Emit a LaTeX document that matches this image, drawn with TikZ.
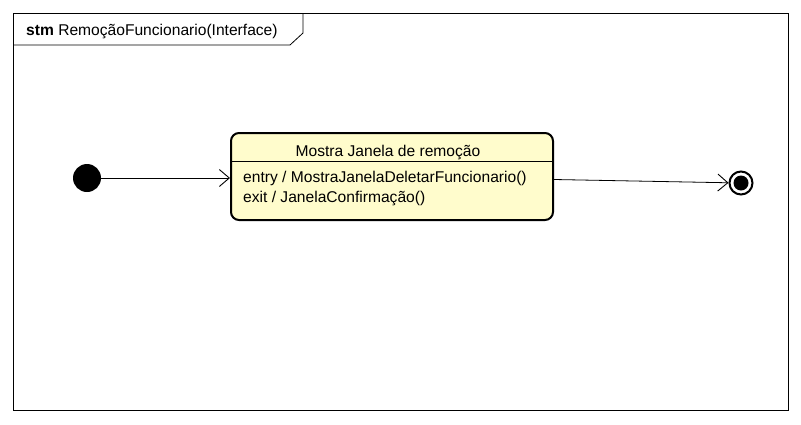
\documentclass[tikz,border=0pt]{standalone}
\usepackage{fontspec}
\setmainfont{Liberation Sans}
\usetikzlibrary{arrows.meta, positioning}

\tikzset{
    statebox/.style={draw, line width=2pt, rounded corners=8pt, fill=yellow!20,
        minimum width=322pt, minimum height=87pt, inner sep=0pt},
    trans/.style={-{Straight Barb[length=10pt,width=17pt,line width=0.9pt]}, line width=0.8pt},
    txt/.style={font=\fontsize{15.6}{18}\selectfont, inner sep=0pt}
}

\begin{document}
\begin{tikzpicture}[x=1pt,y=-1pt]
    \useasboundingbox (0,0) rectangle (801,424);

    % frame and its name tab
    \draw[line width=0.8pt] (13,13) rectangle (788,410);
    \draw[line width=0.8pt] (13,45) -- (290,45) -- (303,33) -- (303,13);
    \node[txt, anchor=west] (frametitle) at (26,31) {\textbf{stm} RemoçãoFuncionario(Interface)};

    % states
    \node[circle, fill=black, minimum size=28pt, inner sep=0pt] (start) at (87,178) {};
    \node[statebox] (mostra) at (392,176.5) {};
    \node[circle, draw, line width=2pt, minimum size=23pt, inner sep=0pt] (stop) at (741,183) {};
    \node[circle, fill=black, minimum size=15pt, inner sep=0pt] (stopdot) at (stop) {};

    % state compartments
    \node[txt] (mostratitle) at (388,152) {Mostra Janela de remoção};
    \draw[line width=0.8pt] ([yshift=-29]mostra.north west) -- ([yshift=-29]mostra.north east);
    \node[txt, anchor=west] (entry) at (243,178) {entry / MostraJanelaDeletarFuncionario()};
    \node[txt, anchor=west] (exit) at (243,198) {exit / JanelaConfirmação()};

    % transitions
    \draw[trans] (start) -- (mostra.west |- start);
    \draw[trans] ([yshift=-3]mostra.east) -- (stop);
\end{tikzpicture}
\end{document}
